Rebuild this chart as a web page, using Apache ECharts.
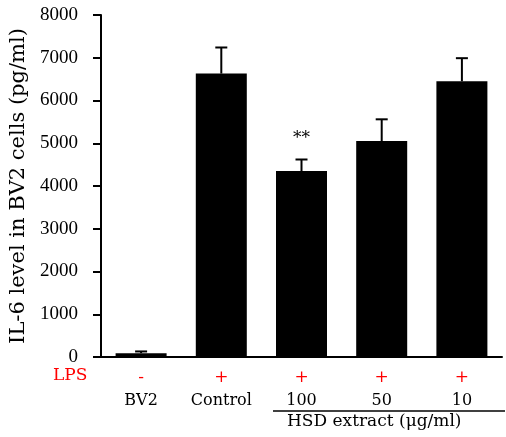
<!DOCTYPE html>
<html><head><meta charset="utf-8">
<script src="https://cdn.jsdelivr.net/npm/echarts@6/dist/echarts.min.js"></script>
<style>html,body{margin:0;padding:0;background:#fff}#c{width:506px;height:437px}</style>
</head><body><div id="c"></div>
<script>
var categories = ['BV2', 'Control', '100', '50', '10'];
var lpsMarks = ['-', '+', '+', '+', '+'];
var means = [90, 6630, 4350, 5050, 6450];
var errUpper = [130, 7240, 4620, 5560, 6990];
var significance = ['', '', '**', '', ''];
var yTicks = [0, 1000, 2000, 3000, 4000, 5000, 6000, 7000, 8000];

var SERIF = 'DejaVu Serif';
var chart = echarts.init(document.getElementById('c'));
chart.setOption({
  animation: false,
  grid: { left: 101, right: 4, top: 15, bottom: 80 },
  xAxis: {
    type: 'category', data: categories, boundaryGap: true,
    axisLine: { lineStyle: { color: '#000', width: 2 } },
    axisTick: { inside: true, length: 4, lineStyle: { color: '#000', width: 2 } },
    axisLabel: {
      margin: 9, interval: 0,
      formatter: function (v, i) { return '{r|' + lpsMarks[i] + '}\n{b|' + v + '}'; },
      rich: {
        r: { color: '#ff0000', fontFamily: SERIF, fontSize: 17, lineHeight: 23 },
        b: { color: '#000', fontFamily: SERIF, fontSize: 16, lineHeight: 23 }
      }
    }
  },
  yAxis: {
    type: 'value', min: yTicks[0], max: yTicks[yTicks.length - 1], interval: 1000,
    splitLine: { show: false },
    axisLine: { show: true, lineStyle: { color: '#000', width: 2 } },
    axisTick: { show: true, length: 8, lineStyle: { color: '#000', width: 2 } },
    axisLabel: { color: '#000', fontFamily: 'Liberation Sans Narrow', fontSize: 19, margin: 23, formatter: function (v) { return String(v); } },
    name: 'IL-6 level in BV2 cells (pg/ml)', nameLocation: 'middle', nameGap: 67,
    nameTextStyle: { color: '#000', fontFamily: SERIF, fontSize: 21 }
  },
  series: [
    { type: 'bar', data: means, barWidth: 51, itemStyle: { color: '#000' }, z: 2 },
    {
      type: 'custom', z: 3,
      data: categories.map(function (c, i) { return [i, means[i], errUpper[i]]; }),
      renderItem: function (params, api) {
        var i = api.value(0);
        var base = api.coord([i, api.value(1)]);
        var top = api.coord([i, api.value(2)]);
        var children = [
          { type: 'line', shape: { x1: base[0], y1: base[1], x2: top[0], y2: top[1] }, style: { stroke: '#000', lineWidth: 2 } },
          { type: 'line', shape: { x1: top[0] - 6, y1: top[1], x2: top[0] + 6, y2: top[1] }, style: { stroke: '#000', lineWidth: 2 } }
        ];
        if (significance[i]) {
          children.push({ type: 'text', style: { text: significance[i], x: top[0], y: top[1] - 21, align: 'center', verticalAlign: 'middle', fill: '#000', font: '17px ' + SERIF } });
        }
        return { type: 'group', children: children };
      }
    }
  ],
  graphic: [
    { type: 'text', left: 53, top: 367, style: { text: 'LPS', fill: '#ff0000', font: '17px ' + SERIF } },
    { type: 'line', shape: { x1: 273, y1: 411, x2: 505, y2: 411 }, style: { stroke: '#000', lineWidth: 1.5 } },
    { type: 'text', left: 287, top: 413, style: { text: 'HSD extract (μg/ml)', fill: '#000', font: '17px ' + SERIF } }
  ]
});
</script></body></html>
